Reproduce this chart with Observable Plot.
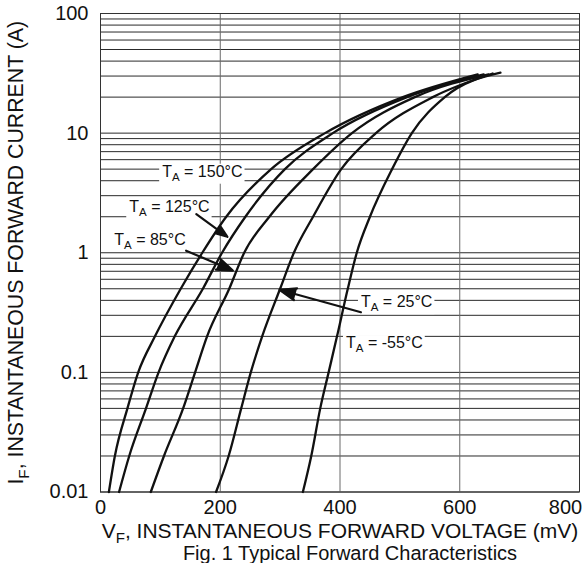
<!DOCTYPE html>
<html>
<head>
<meta charset="utf-8">
<script src="https://cdn.jsdelivr.net/npm/d3@7"></script>
<script src="https://cdn.jsdelivr.net/npm/@observablehq/plot@0.6"></script>
<style>
  body { margin: 0; background: #fff; font-family: "Liberation Sans", Arial, sans-serif; }
  #chart svg { display: block; }
  #caption { font-size: 20px; width: 585px; box-sizing: border-box; padding-left: 115px;
             text-align: center; line-height: 20px; margin-top: -5px; color: #111; }
</style>
</head>
<body>
<div id="chart"></div>
<div id="caption">Fig. 1 Typical Forward Characteristics</div>
<script>
// ---- data ----
const temps = ["150°C", "125°C", "85°C", "25°C", "-55°C"];
const curveCurrents = [0.01, 0.02, 0.05, 0.1, 0.2, 0.5, 1, 2, 5, 10, 20]; // A
const vf150 = [14, 24, 45, 63, 91, 134, 170, 210, 285, 375, 505];          // mV
const vf125 = [31, 48, 76, 97, 124, 171, 203, 242, 308, 388, 512];
const vf85  = [84, 106, 138, 158, 178, 215, 240, 282, 355, 420, 525];
const vf25  = [193, 214, 235, 251, 270, 300, 323, 355, 402, 460, 555];
const vfm55 = [338, 352, 367, 381, 395, 413, 428, 450, 487, 520, 575];
const endVoltage = [630, 640, 648, 655, 668];
const endCurrent = [31, 31, 31, 31.5, 32];

const xTicks = [0, 200, 400, 600];
const xTickLast = [800];
const yTicks = [0.01, 0.1, 1, 10, 100];
const yTickLabels = ["0.01", "0.1", "1", "10", "100"];
const verticalGrid = [200, 400, 600];

const labelTexts = ["T_A = 150°C", "T_A = 125°C", "T_A = 85°C", "T_A = 25°C", "T_A = -55°C"];
const labelV = [103, 48, 23, 435, 410];
const labelI = [4.77, 2.43, 1.29, 0.387, 0.176];

const arrowFromV = [160, 143, 435];
const arrowFromI = [2.1, 1.04, 0.318];
const arrowToV = [212, 221, 299];
const arrowToI = [1.36, 0.71, 0.49];

const xLabel = "V_F, INSTANTANEOUS FORWARD VOLTAGE (mV)";
const yLabel = "I_F, INSTANTANEOUS FORWARD CURRENT (A)";

// ---- build tables ----
const vfs = [vf150, vf125, vf85, vf25, vfm55];
const rows = temps.flatMap((t, k) => [
  ...curveCurrents.map((c, j) => ({t, v: vfs[k][j], i: c})),
  {t, v: endVoltage[k], i: endCurrent[k]}
]);
const gridY = [0.01, 0.1, 1, 10].flatMap(d => [1,2,3,4,5,6,7,8,9].map(k => +(k * d).toPrecision(3))).concat([100]);
const labels = labelTexts.map((text, j) => ({text, v: labelV[j], i: labelI[j]}));
const arrows = arrowFromV.map((_, j) => ({x1: arrowFromV[j], y1: arrowFromI[j], x2: arrowToV[j], y2: arrowToI[j]}));

const chart = Plot.plot({
  width: 585,
  height: 548,
  marginLeft: 100,
  marginRight: 6,
  marginTop: 13,
  marginBottom: 56.5,
  x: {domain: [0, 800]},
  y: {type: "log", domain: [0.01, 100]},
  style: {fontFamily: "'Liberation Sans', Arial, sans-serif", fontSize: "20px", color: "#111", background: "white"},
  marks: [
    Plot.ruleY(gridY, {stroke: "#2a2a2a", strokeWidth: 1}),
    Plot.ruleX(verticalGrid, {stroke: "#6a6a6a", strokeWidth: 1}),
    Plot.frame({stroke: "#333"}),
    Plot.line(rows, {x: "v", y: "i", z: "t", stroke: "#111", strokeWidth: 2.3, curve: "monotone-x"}),
    Plot.text(labels, {x: "v", y: "i", text: "text", textAnchor: "start", fontSize: 16, fill: "#111"}),
    Plot.arrow(arrows, {x1: "x1", y1: "y1", x2: "x2", y2: "y2", stroke: "#111", strokeWidth: 2.2, headLength: 12, headAngle: 40}),
    Plot.axisY(yTicks, {tickSize: 0, tickPadding: 12, label: null, tickFormat: d => yTickLabels[yTicks.indexOf(d)]}),
    Plot.axisX(xTicks, {tickSize: 0, tickPadding: 8, label: null}),
    Plot.axisX(xTickLast, {tickSize: 0, tickPadding: 8, label: null, dx: -14}),
    Plot.text([xLabel], {text: d => d, frameAnchor: "bottom", lineAnchor: "bottom", dy: 46, fontSize: 21}),
    Plot.text([yLabel], {text: d => d, frameAnchor: "left", textAnchor: "middle", rotate: -90, dx: -84, fontSize: 21.3})
  ]
});
document.getElementById("chart").append(chart);

// ---- subscripts, label backgrounds, filled arrowheads ----
const ns = "http://www.w3.org/2000/svg";
const annotationTexts = [];
chart.querySelectorAll("text").forEach(t => {
  const s = t.textContent;
  const m = s.match(/^(.*?)_(\w)(.*)$/);
  if (!m) return;
  if (s.startsWith("T_A")) annotationTexts.push(t);
  const fs = parseFloat(getComputedStyle(t).fontSize) || 20;
  t.textContent = "";
  const a = document.createElementNS(ns, "tspan"); a.textContent = m[1];
  const b = document.createElementNS(ns, "tspan"); b.textContent = m[2];
  b.setAttribute("dy", (fs * 0.25).toFixed(2)); b.setAttribute("font-size", (fs * 0.72).toFixed(2));
  const c = document.createElementNS(ns, "tspan"); c.textContent = m[3];
  c.setAttribute("dy", (-fs * 0.25).toFixed(2));
  t.append(a, b, c);
});
annotationTexts.forEach(t => {
  const bb = t.getBBox();
  const r = document.createElementNS(ns, "rect");
  r.setAttribute("x", bb.x - 3);
  r.setAttribute("y", bb.y + 1);
  r.setAttribute("width", bb.width + 5);
  r.setAttribute("height", bb.height);
  r.setAttribute("fill", "white");
  const tr = t.getAttribute("transform");
  if (tr) r.setAttribute("transform", tr);
  t.parentNode.insertBefore(r, t);
});
chart.querySelectorAll('g[aria-label="arrow"] path').forEach(p => {
  p.setAttribute("fill", "#111");
  p.setAttribute("stroke-linejoin", "miter");
});
</script>
</body>
</html>
